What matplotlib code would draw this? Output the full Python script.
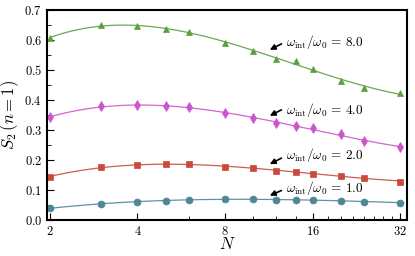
import numpy as np
import matplotlib
matplotlib.use('Agg')
import matplotlib.pyplot as plt
from matplotlib.ticker import FixedLocator, FuncFormatter, MultipleLocator, NullFormatter

plt.rcParams['mathtext.fontset'] = 'cm'
plt.rcParams['font.family'] = 'serif'
plt.rcParams['font.serif'] = ['cmr10', 'DejaVu Serif']
plt.rcParams['axes.formatter.use_mathtext'] = True

# 数据
N = [2, 3, 4, 5, 6, 8, 10, 12, 14, 16, 20, 24, 32]
s2_w1 = [0.039, 0.053, 0.061, 0.064, 0.068, 0.069, 0.069, 0.068, 0.067, 0.066, 0.063, 0.061, 0.058]
s2_w2 = [0.144, 0.176, 0.183, 0.186, 0.186, 0.178, 0.172, 0.164, 0.159, 0.154, 0.147, 0.141, 0.128]
s2_w4 = [0.342, 0.380, 0.383, 0.380, 0.376, 0.356, 0.339, 0.322, 0.313, 0.306, 0.286, 0.263, 0.243]
s2_w8 = [0.607, 0.650, 0.647, 0.636, 0.626, 0.591, 0.564, 0.536, 0.530, 0.503, 0.464, 0.441, 0.422]
omega = ['1.0', '2.0', '4.0', '8.0']
major_x = [2, 4, 8, 16, 32]
minor_x = [6, 10, 12, 14, 18, 20, 22, 24, 26, 28, 30]

series = [s2_w1, s2_w2, s2_w4, s2_w8]
colors = ['#4f8797', '#c9493a', '#cc55cc', '#5c9e40']
markers = ['o', 's', 'd', '^']
# 标注位置 (文字y, 箭头头部y, 箭头尾部y)
label_y = [0.108, 0.217, 0.367, 0.593]
head_y = [0.081, 0.186, 0.347, 0.567]
tail_y = [0.098, 0.206, 0.367, 0.587]

fig = plt.figure(figsize=(4.15, 2.56), dpi=100)
ax = fig.add_axes([0.113, 0.141, 0.868, 0.82])
ax.set_xscale('log', base=2)

xs = np.log2(N)
xf = np.linspace(xs[0], xs[-1], 200)
for y, c, m in zip(series, colors, markers):
    coef = np.polyfit(xs, y, 3)
    ax.plot(2 ** xf, np.polyval(coef, xf), '-', lw=0.9, color=c, alpha=0.9)
    ax.plot(N, y, m, ms=5, color=c, mec=c, mew=0.5, ls='none')

for w, ly, hy, ty in zip(omega, label_y, head_y, tail_y):
    ax.annotate('', xy=(11.4, hy), xytext=(12.5, ty),
                arrowprops=dict(arrowstyle='-|>', color='black', lw=1.2,
                                mutation_scale=8, shrinkA=0, shrinkB=0))
    ax.text(13.0, ly, r'$\omega_{\rm int}/\omega_0\, =\, %s$' % w, fontsize=9.5,
            va='center', ha='left')

ax.set_xlim(1.953, 33.8)
ax.set_ylim(0, 0.7)
ax.xaxis.set_major_locator(FixedLocator(major_x))
ax.xaxis.set_major_formatter(FuncFormatter(lambda v, p: r'$%d$' % v))
ax.xaxis.set_minor_locator(FixedLocator(minor_x))
ax.xaxis.set_minor_formatter(NullFormatter())
ax.yaxis.set_major_locator(MultipleLocator(0.1))
ax.yaxis.set_minor_locator(MultipleLocator(0.05))
ax.yaxis.set_major_formatter(FuncFormatter(lambda v, p: r'$%.1f$' % v))

ax.tick_params(which='both', direction='in', top=False, right=False, labelsize=9)
ax.tick_params(which='major', length=5, width=0.8)
ax.tick_params(which='minor', length=3, width=0.6)
for sp in ax.spines.values():
    sp.set_linewidth(1.5)

ax.set_xlabel(r'$N$', fontsize=12, labelpad=-1)
ax.set_ylabel(r'$S_2\,(n=1)$', fontsize=12, labelpad=2)

fig.savefig('out.png', dpi=100)
